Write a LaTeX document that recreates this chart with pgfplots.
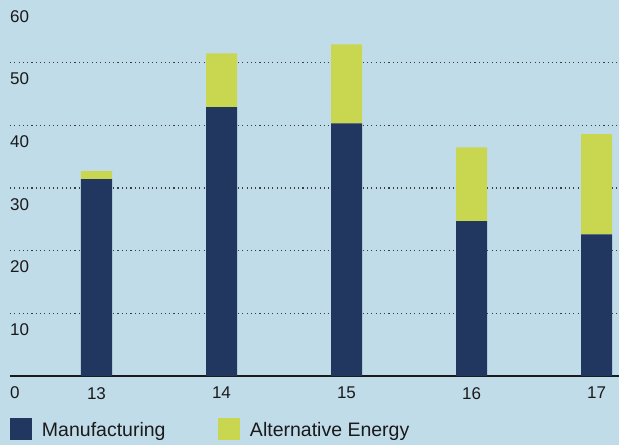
\documentclass[border=0pt]{standalone}
\usepackage{pgfplots}
\pgfplotsset{compat=1.18}
\usepackage{fontspec}
\setmainfont{Liberation Sans}
\definecolor{bg}{HTML}{C1DCE9}
\definecolor{navy}{HTML}{213760}
\definecolor{lime}{HTML}{C8D650}
\definecolor{ink}{HTML}{1A1A1A}
\begin{document}
\begin{tikzpicture}
\fill[bg] (-10pt,-69pt) rectangle (609pt,376pt);
\useasboundingbox (-10pt,-69pt) rectangle (609pt,376pt);
\begin{axis}[
  at={(0pt,0pt)}, anchor=south west,
  scale only axis, width=609pt, height=376pt,
  xmin=-0.692, xmax=4.18, ymin=0, ymax=60,
  ybar stacked, bar width=31pt,
  axis lines*=left,
  y axis line style={draw=none},
  x axis line style={-, draw=ink, line width=1.3pt},
  major tick length=0pt,
  /pgf/number format/assume math mode=true,
  xtick={0,1,2,3,4}, xticklabels={13,14,15,16,17},
  ytick={0,10,...,60},
  extra y ticks={10,20,30,40,50}, extra y tick labels={},
  extra y tick style={grid=major,
    major grid style={draw=ink!85, line width=1.1pt, dash pattern=on 1.1pt off 3.2pt}},
  xticklabel style={anchor=north, inner sep=0pt, yshift=-11pt,
    font=\fontsize{17}{17}\selectfont, text=ink},
  yticklabel style={anchor=north west, inner sep=0pt, yshift=-10pt,
    font=\fontsize{17}{17}\selectfont, text=ink},
  legend columns=2,
  legend cell align=left,
  legend style={at={(0,-0.141)}, anchor=west, draw=none, fill=none,
    inner sep=0pt, outer sep=0pt, column sep=0pt,
    font=\fontsize{19.5}{20}\selectfont, text=ink,
    nodes={inner sep=0pt},
    /tikz/every odd column/.append style={column sep=10pt}},
  legend image code/.code={\path[#1] (0pt,-10pt) rectangle (22pt,12pt);},
]
\addplot[fill=navy, draw=none] coordinates {(0,31.4) (1,42.9) (2,40.3) (3,24.7) (4,22.6)};
\addplot[fill=lime, draw=none] coordinates {(0,1.3) (1,8.6) (2,12.6) (3,11.8) (4,16.0)};
\legend{\makebox[176pt][l]{Manufacturing}, Alternative Energy}
\end{axis}
\end{tikzpicture}
\end{document}
